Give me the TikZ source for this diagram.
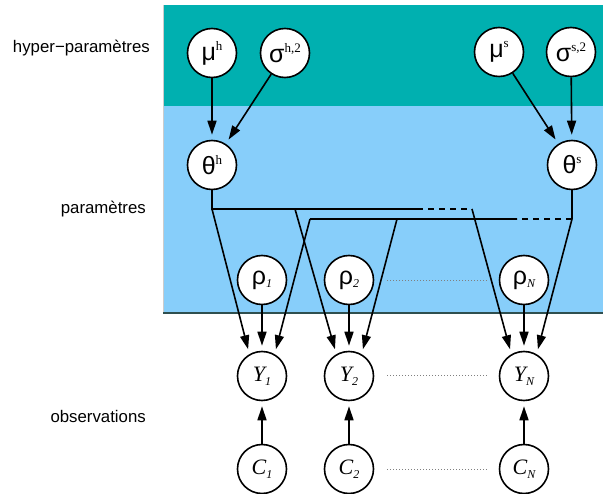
\documentclass[tikz,border=0pt]{standalone}
\usepackage{fontspec}
\usetikzlibrary{arrows.meta}
\newfontfamily\gk{Liberation Sans}
\newfontfamily\tm{Liberation Serif}
\newfontfamily\lab{Liberation Sans}
\definecolor{tealband}{RGB}{0,176,176}
\definecolor{blueband}{RGB}{135,206,250}
\definecolor{edgeline}{RGB}{47,79,79}
\newcommand\gsup[2]{{\gk\fontsize{25}{25}\selectfont #1}\raisebox{10pt}{\tm\fontsize{13}{13}\selectfont #2}}
\newcommand\gsub[2]{{\gk\fontsize{25}{25}\selectfont #1}\raisebox{-3pt}{\tm\itshape\fontsize{12}{12}\selectfont #2}}
\newcommand\isub[2]{{\tm\itshape\fontsize{22}{22}\selectfont #1}\raisebox{-4pt}{\tm\itshape\fontsize{12}{12}\selectfont #2}}
\begin{document}
\begin{tikzpicture}[x=1pt,y=-1pt,
  var/.style={circle,draw,fill=white,line width=1.6pt,minimum size=49pt,inner sep=0pt},
  arr/.style={line width=1.6pt,-{Triangle[length=14pt,width=9pt]},shorten >=5pt},
  ln/.style={line width=1.6pt},
  dl/.style={line width=1.6pt,dash pattern=on 6pt off 5pt},
  dots/.style={gray,line width=1pt,dotted},
  lbl/.style={font=\lab\fontsize{16.8}{20}\selectfont,anchor=east,inner sep=0pt}]
\useasboundingbox (0,0) rectangle (603,494);
\fill[tealband] (163,5) rectangle (603,106);
\fill[blueband] (163,106) rectangle (603,313);
\draw[gray!40,line width=0.6pt] (163,5) -- (163,313);
\draw[edgeline,line width=2pt] (163,313) -- (603,313);
% labels
\node[lbl] (lh) at (150,48) {hyper−paramètres};
\node[lbl] (lp) at (146,209) {paramètres};
\node[lbl] (lo) at (146,416) {observations};
% nodes
\node[var] (mh) at (212,53) {\gsup{μ}{h}};
\node[var] (sh) at (285,53) {\gsup{σ}{h,2}};
\node[var] (ms) at (499,52) {\gsup{μ}{s}};
\node[var] (ss) at (571,52) {\gsup{σ}{s,2}};
\node[var] (th) at (212,165) {\gsup{θ}{h}};
\node[var] (ts) at (572,165) {\gsup{θ}{s}};
\node[var] (r1) at (262,280) {\gsub{ρ}{1}};
\node[var] (r2) at (349,280) {\gsub{ρ}{2}};
\node[var] (rN) at (524,280) {\gsub{ρ}{N}};
\node[var] (y1) at (262,376) {\isub{Y}{1}};
\node[var] (y2) at (349,376) {\isub{Y}{2}};
\node[var] (yN) at (524,376) {\isub{Y}{N}};
\node[var] (c1) at (262,469) {\isub{C}{1}};
\node[var] (c2) at (349,469) {\isub{C}{2}};
\node[var] (cN) at (524,469) {\isub{C}{N}};
% hyper -> theta
\draw[arr] (mh) -- (th);
\draw[arr] (sh) -- (th);
\draw[arr] (ms) -- (ts);
\draw[arr] (ss) -- (ts);
% junction coordinates
\coordinate (hj0) at (212,209);
\coordinate (hj2) at (295,209);
\coordinate (hd) at (417,209);
\coordinate (hjN) at (472,209);
\coordinate (sj0) at (572,219);
\coordinate (sd) at (517,219);
\coordinate (sj2) at (397,219);
\coordinate (sj1) at (310,219);
% theta^h bus
\draw[ln] (th) -- (hj0) -- (hd);
\draw[dl] (hd) -- (hjN);
% theta^s bus
\draw[ln] (ts) -- (sj0);
\draw[dl] (sj0) -- (sd);
\draw[ln] (sd) -- (sj1);
% to Y
\draw[arr] (hj0) -- (y1.120);
\draw[arr] (sj1) -- (y1.60);
\draw[arr] (hj2) -- (y2.120);
\draw[arr] (sj2) -- (y2.60);
\draw[arr] (hjN) -- (yN.120);
\draw[arr] (sj0) -- (yN.60);
% rho -> Y
\draw[arr] (r1) -- (y1);
\draw[arr] (r2) -- (y2);
\draw[arr] (rN) -- (yN);
% C -> Y
\draw[arr] (c1) -- (y1);
\draw[arr] (c2) -- (y2);
\draw[arr] (cN) -- (yN);
% dotted
\coordinate (d1a) at (387,281); \coordinate (d1b) at (488,281);
\coordinate (d2a) at (387,376); \coordinate (d2b) at (488,376);
\coordinate (d3a) at (387,470); \coordinate (d3b) at (488,470);
\draw[dots] (d1a) -- (d1b);
\draw[dots] (d2a) -- (d2b);
\draw[dots] (d3a) -- (d3b);
\end{tikzpicture}
\end{document}
